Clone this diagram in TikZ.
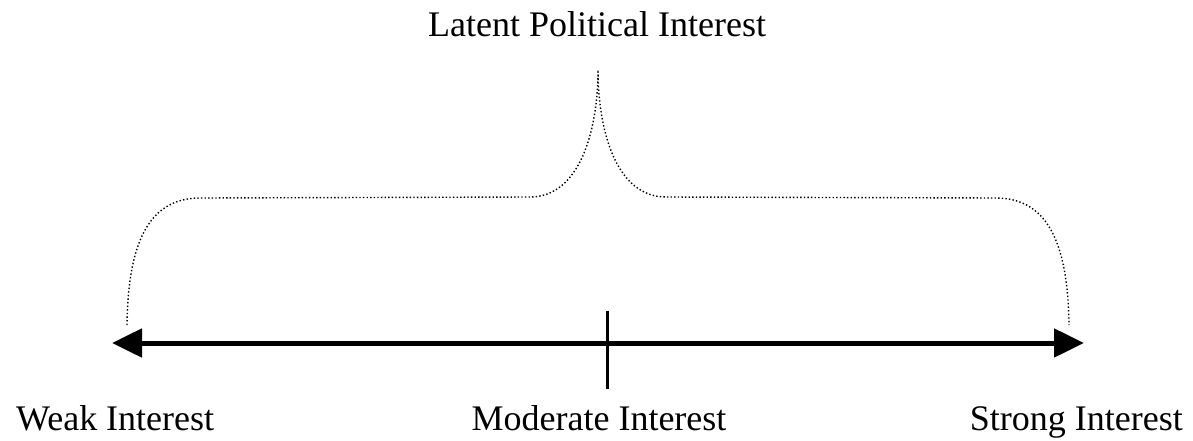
\documentclass[tikz,border=0pt]{standalone}
\usepackage{fontspec}
\setmainfont{Liberation Serif}
\usetikzlibrary{arrows.meta}
\begin{document}
\begin{tikzpicture}[x=1pt,y=-1pt,
  lbl/.style={inner sep=0pt,font=\fontsize{36}{40}\selectfont},
  scaleline/.style={line width=5pt,{Triangle[length=30pt,width=28pt]}-{Triangle[length=30pt,width=28pt]}},
  tickline/.style={line width=3pt},
  bracepath/.style={line width=1.4pt,dash pattern=on 1.4pt off 2.2pt,black}]
\useasboundingbox (0,0) rectangle (1193,441);
% labels
\node[lbl,anchor=base] (latent) at (597,37) {Latent Political Interest};
\node[lbl,anchor=base west] (weak) at (16,430) {Weak Interest};
\node[lbl,anchor=base] (moderate) at (599,430) {Moderate Interest};
\node[lbl,anchor=base east] (strong) at (1183,430) {Strong Interest};
% scale
\coordinate (lefttip) at (112,343);
\coordinate (righttip) at (1084,343);
\coordinate (ticktop) at (607,311);
\coordinate (tickbot) at (607,389);
\draw[scaleline] (lefttip) -- (righttip);
\draw[tickline] (ticktop) -- (tickbot);
% brace
\coordinate (bl) at (127,325);
\coordinate (br) at (1069,325);
\coordinate (cusp) at (598,70);
\draw[bracepath] (bl) .. controls (128,250) and (145,198) .. (200,198)
  -- (530,197) .. controls (580,197) and (598,130) .. (cusp)
  .. controls (598,130) and (616,197) .. (666,197)
  -- (996,198) .. controls (1051,198) and (1068,250) .. (br);
\end{tikzpicture}
\end{document}
